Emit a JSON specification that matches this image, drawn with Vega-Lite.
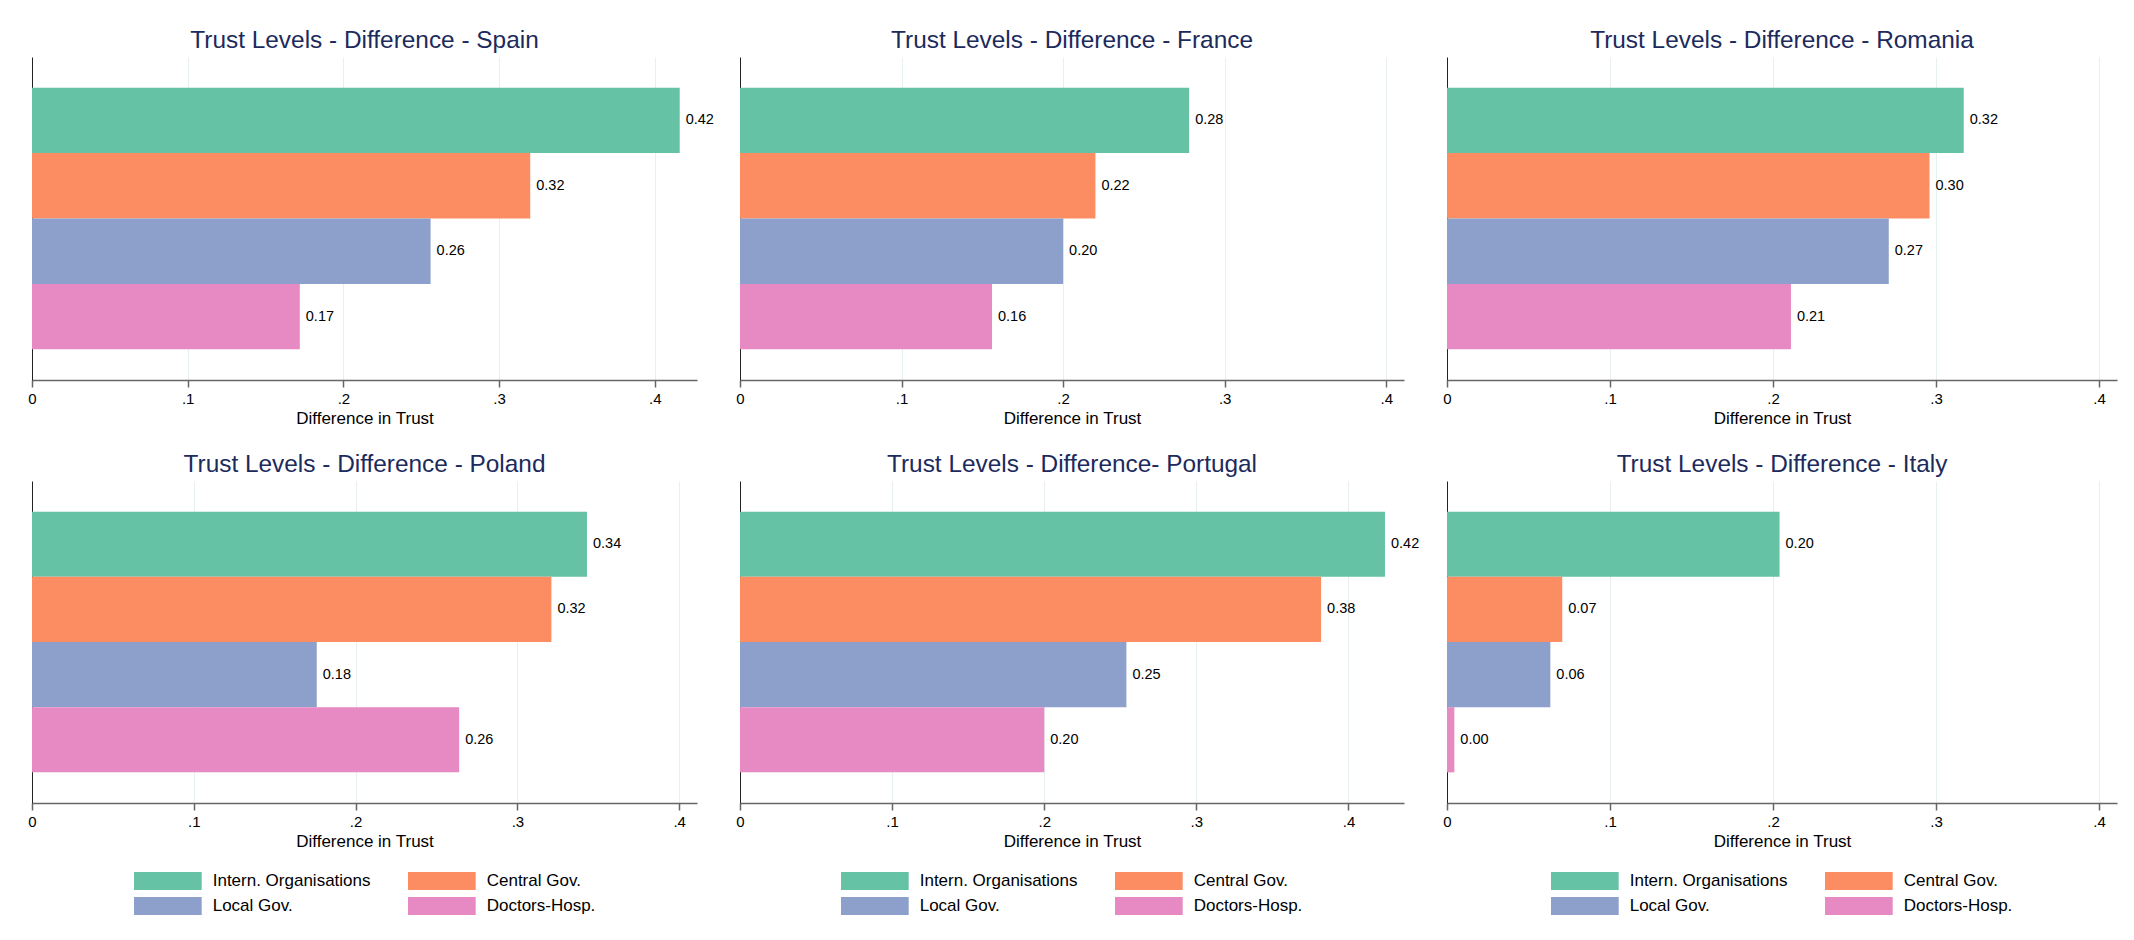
{
  "$schema": "https://vega.github.io/schema/vega-lite/v6.json",
  "background": "white",
  "padding": {"top": 27, "left": 27, "right": 10, "bottom": 10},
  "datasets": {
    "trust": [
      {"country": "Spain", "inst": "Intern. Organisations", "diff": 0.416},
      {"country": "Spain", "inst": "Central Gov.", "diff": 0.320},
      {"country": "Spain", "inst": "Local Gov.", "diff": 0.256},
      {"country": "Spain", "inst": "Doctors-Hosp.", "diff": 0.172},
      {"country": "France", "inst": "Intern. Organisations", "diff": 0.278},
      {"country": "France", "inst": "Central Gov.", "diff": 0.220},
      {"country": "France", "inst": "Local Gov.", "diff": 0.200},
      {"country": "France", "inst": "Doctors-Hosp.", "diff": 0.156},
      {"country": "Romania", "inst": "Intern. Organisations", "diff": 0.317},
      {"country": "Romania", "inst": "Central Gov.", "diff": 0.296},
      {"country": "Romania", "inst": "Local Gov.", "diff": 0.271},
      {"country": "Romania", "inst": "Doctors-Hosp.", "diff": 0.211},
      {"country": "Poland", "inst": "Intern. Organisations", "diff": 0.343},
      {"country": "Poland", "inst": "Central Gov.", "diff": 0.321},
      {"country": "Poland", "inst": "Local Gov.", "diff": 0.176},
      {"country": "Poland", "inst": "Doctors-Hosp.", "diff": 0.264},
      {"country": "Portugal", "inst": "Intern. Organisations", "diff": 0.424},
      {"country": "Portugal", "inst": "Central Gov.", "diff": 0.382},
      {"country": "Portugal", "inst": "Local Gov.", "diff": 0.254},
      {"country": "Portugal", "inst": "Doctors-Hosp.", "diff": 0.200},
      {"country": "Italy", "inst": "Intern. Organisations", "diff": 0.204},
      {"country": "Italy", "inst": "Central Gov.", "diff": 0.0707},
      {"country": "Italy", "inst": "Local Gov.", "diff": 0.0634},
      {"country": "Italy", "inst": "Doctors-Hosp.", "diff": 0.0045}
    ]
  },
  "data": {"name": "trust"},
  "spacing": 25,
  "resolve": {"scale": {"x": "independent", "y": "independent"}, "legend": {"color": "independent"}},
  "vconcat": [
    {
      "bounds": "flush",
      "spacing": 43,
      "resolve": {"scale": {"x": "independent", "y": "independent"}, "legend": {"color": "independent"}},
      "hconcat": [
        {
          "title": {"text": "Trust Levels - Difference - Spain"},
          "width": 665, "height": 323,
          "transform": [{"filter": "datum.country === 'Spain'"}],
          "encoding": {
            "y": {"field": "inst", "type": "nominal", "sort": ["Intern. Organisations", "Central Gov.", "Local Gov.", "Doctors-Hosp."], "scale": {"paddingInner": 0, "paddingOuter": 0.47}, "axis": {"labels": false, "ticks": false, "title": null, "grid": false, "domainColor": "#222", "domainWidth": 1}},
            "x": {"field": "diff", "type": "quantitative", "scale": {"domain": [0, 0.4271], "nice": false}, "axis": {"title": "Difference in Trust", "values": [0, 0.1, 0.2, 0.3, 0.4]}}
          },
          "layer": [
            {"mark": {"type": "bar"}, "encoding": {"color": {"field": "inst", "type": "nominal", "scale": {"domain": ["Intern. Organisations", "Central Gov.", "Local Gov.", "Doctors-Hosp."]}, "legend": null}}},
            {"mark": {"type": "text", "align": "left", "baseline": "middle", "dx": 6, "fontSize": 14.5, "color": "#000"}, "encoding": {"text": {"field": "diff", "type": "quantitative", "format": ".2f"}}}
          ]
        },
        {
          "title": {"text": "Trust Levels - Difference - France"},
          "width": 664, "height": 323,
          "transform": [{"filter": "datum.country === 'France'"}],
          "encoding": {
            "y": {"field": "inst", "type": "nominal", "sort": ["Intern. Organisations", "Central Gov.", "Local Gov.", "Doctors-Hosp."], "scale": {"paddingInner": 0, "paddingOuter": 0.47}, "axis": {"labels": false, "ticks": false, "title": null, "grid": false, "domainColor": "#222", "domainWidth": 1}},
            "x": {"field": "diff", "type": "quantitative", "scale": {"domain": [0, 0.411], "nice": false}, "axis": {"title": "Difference in Trust", "values": [0, 0.1, 0.2, 0.3, 0.4]}}
          },
          "layer": [
            {"mark": {"type": "bar"}, "encoding": {"color": {"field": "inst", "type": "nominal", "scale": {"domain": ["Intern. Organisations", "Central Gov.", "Local Gov.", "Doctors-Hosp."]}, "legend": null}}},
            {"mark": {"type": "text", "align": "left", "baseline": "middle", "dx": 6, "fontSize": 14.5, "color": "#000"}, "encoding": {"text": {"field": "diff", "type": "quantitative", "format": ".2f"}}}
          ]
        },
        {
          "title": {"text": "Trust Levels - Difference - Romania"},
          "width": 670, "height": 323,
          "transform": [{"filter": "datum.country === 'Romania'"}],
          "encoding": {
            "y": {"field": "inst", "type": "nominal", "sort": ["Intern. Organisations", "Central Gov.", "Local Gov.", "Doctors-Hosp."], "scale": {"paddingInner": 0, "paddingOuter": 0.47}, "axis": {"labels": false, "ticks": false, "title": null, "grid": false, "domainColor": "#222", "domainWidth": 1}},
            "x": {"field": "diff", "type": "quantitative", "scale": {"domain": [0, 0.411], "nice": false}, "axis": {"title": "Difference in Trust", "values": [0, 0.1, 0.2, 0.3, 0.4]}}
          },
          "layer": [
            {"mark": {"type": "bar"}, "encoding": {"color": {"field": "inst", "type": "nominal", "scale": {"domain": ["Intern. Organisations", "Central Gov.", "Local Gov.", "Doctors-Hosp."]}, "legend": null}}},
            {"mark": {"type": "text", "align": "left", "baseline": "middle", "dx": 6, "fontSize": 14.5, "color": "#000"}, "encoding": {"text": {"field": "diff", "type": "quantitative", "format": ".2f"}}}
          ]
        }
      ]
    },
    {
      "bounds": "flush",
      "spacing": 43,
      "resolve": {"scale": {"x": "independent", "y": "independent"}, "legend": {"color": "independent"}},
      "hconcat": [
        {
          "title": {"text": "Trust Levels - Difference - Poland"},
          "width": 665, "height": 322,
          "transform": [{"filter": "datum.country === 'Poland'"}],
          "encoding": {
            "y": {"field": "inst", "type": "nominal", "sort": ["Intern. Organisations", "Central Gov.", "Local Gov.", "Doctors-Hosp."], "scale": {"paddingInner": 0, "paddingOuter": 0.47}, "axis": {"labels": false, "ticks": false, "title": null, "grid": false, "domainColor": "#222", "domainWidth": 1}},
            "x": {"field": "diff", "type": "quantitative", "scale": {"domain": [0, 0.411], "nice": false}, "axis": {"title": "Difference in Trust", "values": [0, 0.1, 0.2, 0.3, 0.4]}}
          },
          "layer": [
            {"mark": {"type": "bar"}, "encoding": {"color": {"field": "inst", "type": "nominal", "scale": {"domain": ["Intern. Organisations", "Central Gov.", "Local Gov.", "Doctors-Hosp."]}}}},
            {"mark": {"type": "text", "align": "left", "baseline": "middle", "dx": 6, "fontSize": 14.5, "color": "#000"}, "encoding": {"text": {"field": "diff", "type": "quantitative", "format": ".2f"}}}
          ]
        },
        {
          "title": {"text": "Trust Levels - Difference- Portugal"},
          "width": 664, "height": 322,
          "transform": [{"filter": "datum.country === 'Portugal'"}],
          "encoding": {
            "y": {"field": "inst", "type": "nominal", "sort": ["Intern. Organisations", "Central Gov.", "Local Gov.", "Doctors-Hosp."], "scale": {"paddingInner": 0, "paddingOuter": 0.47}, "axis": {"labels": false, "ticks": false, "title": null, "grid": false, "domainColor": "#222", "domainWidth": 1}},
            "x": {"field": "diff", "type": "quantitative", "scale": {"domain": [0, 0.4365], "nice": false}, "axis": {"title": "Difference in Trust", "values": [0, 0.1, 0.2, 0.3, 0.4]}}
          },
          "layer": [
            {"mark": {"type": "bar"}, "encoding": {"color": {"field": "inst", "type": "nominal", "scale": {"domain": ["Intern. Organisations", "Central Gov.", "Local Gov.", "Doctors-Hosp."]}}}},
            {"mark": {"type": "text", "align": "left", "baseline": "middle", "dx": 6, "fontSize": 14.5, "color": "#000"}, "encoding": {"text": {"field": "diff", "type": "quantitative", "format": ".2f"}}}
          ]
        },
        {
          "title": {"text": "Trust Levels - Difference - Italy"},
          "width": 670, "height": 322,
          "transform": [{"filter": "datum.country === 'Italy'"}],
          "encoding": {
            "y": {"field": "inst", "type": "nominal", "sort": ["Intern. Organisations", "Central Gov.", "Local Gov.", "Doctors-Hosp."], "scale": {"paddingInner": 0, "paddingOuter": 0.47}, "axis": {"labels": false, "ticks": false, "title": null, "grid": false, "domainColor": "#222", "domainWidth": 1}},
            "x": {"field": "diff", "type": "quantitative", "scale": {"domain": [0, 0.411], "nice": false}, "axis": {"title": "Difference in Trust", "values": [0, 0.1, 0.2, 0.3, 0.4]}}
          },
          "layer": [
            {"mark": {"type": "bar"}, "encoding": {"color": {"field": "inst", "type": "nominal", "scale": {"domain": ["Intern. Organisations", "Central Gov.", "Local Gov.", "Doctors-Hosp."]}}}},
            {"mark": {"type": "text", "align": "left", "baseline": "middle", "dx": 6, "fontSize": 14.5, "color": "#000"}, "encoding": {"text": {"field": "diff", "type": "quantitative", "format": ".2f"}}}
          ]
        }
      ]
    }
  ],
  "config": {
    "font": "Liberation Sans",
    "view": {"stroke": null},
    "title": {"fontSize": 24.4, "fontWeight": "normal", "color": "#1c2a5c", "anchor": "middle", "baseline": "alphabetic", "offset": 4},
    "axisX": {
      "labelExpr": "datum.value == 0 ? '0' : '.' + format(round(datum.value * 10), 'd')",
      "grid": true, "gridColor": "#e7eff1", "gridWidth": 1,
      "domainColor": "#666", "domainWidth": 1.5,
      "tickColor": "#666", "tickWidth": 1.5, "tickSize": 7,
      "labelFontSize": 15, "labelColor": "#000", "labelPadding": 4, "labelFlush": false,
      "titleFontSize": 17, "titleFontWeight": "normal", "titleColor": "#000", "titlePadding": 4
    },
    "range": {"category": ["#66c2a5", "#fc8d62", "#8da0cb", "#e78ac3"]},
    "legend": {
      "orient": "bottom", "direction": "horizontal", "columns": 2, "title": null,
      "columnPadding": 37, "rowPadding": 7, "offset": 23,
      "symbolType": "M-1,-1H6.522V1H-1Z", "symbolSize": 324, "symbolStrokeWidth": 0, "symbolOpacity": 1,
      "labelFontSize": 17, "labelColor": "#000", "labelOffset": 60.7, "labelLimit": 400,
      "layout": {"bottom": {"anchor": "middle"}}
    }
  }
}
